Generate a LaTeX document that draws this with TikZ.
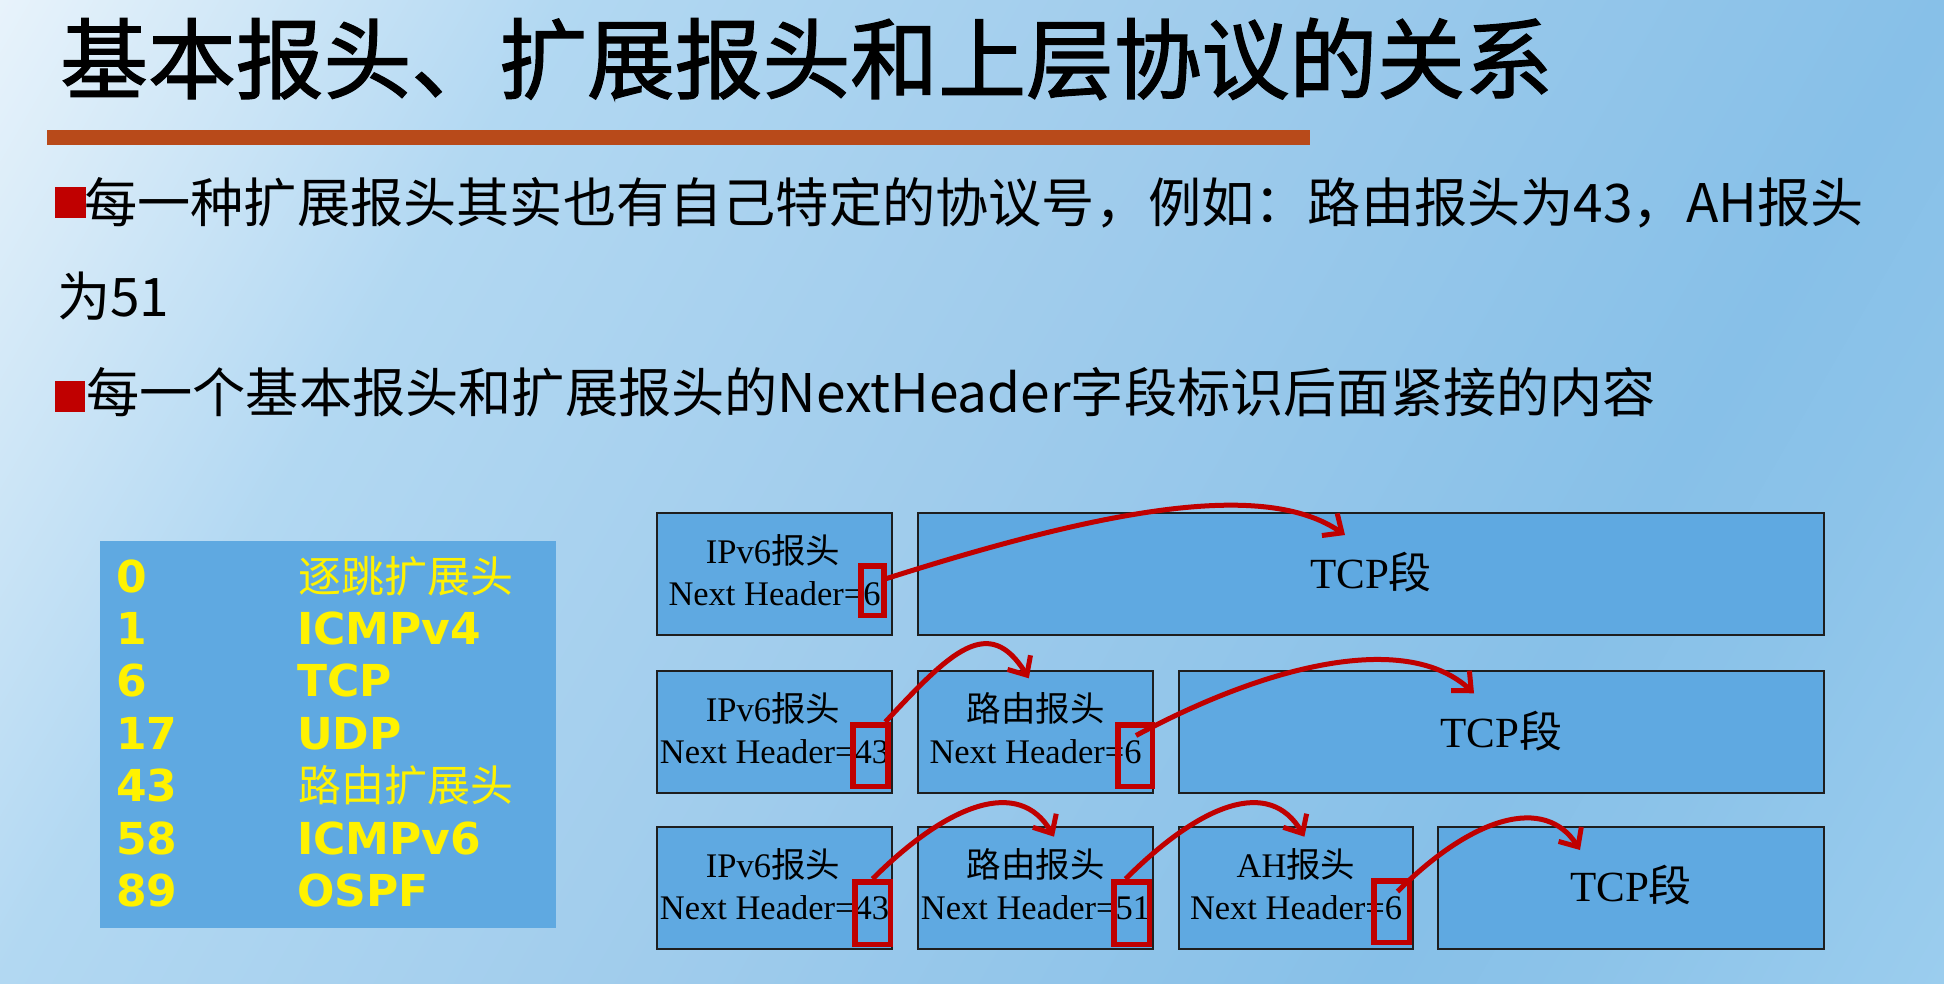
\documentclass[tikz,border=0pt]{standalone}
\usepackage{fontspec}
\usetikzlibrary{arrows.meta}

\newfontfamily\cjk{Noto Sans CJK SC}
\newfontfamily\cjkheavy{Noto Sans CJK SC}[FakeBold=1.5]
\newfontfamily\rmtimes{Liberation Serif}
\newfontfamily\verd{DejaVu Sans}

% slide background tones
\definecolor{bgA}{RGB}{232,243,251}
\definecolor{bgB}{RGB}{178,216,242}
\definecolor{bgC}{RGB}{160,204,236}
\definecolor{bgD}{RGB}{135,192,232}
\definecolor{bgE}{RGB}{140,195,233}
\definecolor{bgF}{RGB}{155,205,238}
\definecolor{boxblue}{RGB}{95,169,225}
\definecolor{rulebrown}{RGB}{184,74,26}
\definecolor{markred}{RGB}{192,0,0}
\definecolor{edgegray}{RGB}{30,30,30}

\pgfdeclarehorizontalshading{bgband}{100bp}{color(0bp)=(bgA); color(25.2bp)=(bgA);
  color(36.3bp)=(bgB); color(48.9bp)=(bgC); color(63.3bp)=(bgD); color(67.2bp)=(bgE);
  color(74.4bp)=(bgF); color(100bp)=(bgF)}

\tikzset{
  pkt/.style={draw=edgegray, line width=2bp, fill=boxblue, inner sep=0pt, rectangle},
  hdrtxt/.style={inner sep=0pt, anchor=base, font=\rmtimes\fontsize{34.5bp}{40bp}\selectfont},
  segtxt/.style={inner sep=0pt, anchor=base, font=\rmtimes\fontsize{43bp}{50bp}\selectfont},
  nhbox/.style={draw=markred, line width=5.5bp, inner sep=0pt, rectangle},
  nharrow/.style={draw=markred, line width=5bp, -{Straight Barb[length=15bp,width=27bp]}},
  tabnum/.style={inner sep=0pt, anchor=base west, text=yellow, font=\verd\bfseries\fontsize{44bp}{50bp}\selectfont},
  tabcjk/.style={inner sep=0pt, anchor=base west, text=yellow, font=\cjk\fontsize{43bp}{50bp}\selectfont},
  bodytxt/.style={inner sep=0pt, anchor=base west, font=\cjk\fontsize{53.2bp}{60bp}\selectfont},
  bulletsq/.style={fill=markred, inner sep=0pt, minimum width=30.5bp, minimum height=31bp},
}

\begin{document}
\begin{tikzpicture}[x=1bp, y=-1bp]
\useasboundingbox (0,0) rectangle (1944,983);

% background gradient
\begin{scope}
  \clip (0,0) rectangle (1944,983);
  \begin{scope}[transform canvas={rotate=-30}]
    \shade[shading=bgband] (-10,-1000) rectangle (2200,900);
  \end{scope}
\end{scope}

% title and rule
\node[inner sep=0pt, anchor=base west, font=\cjkheavy\fontsize{87.8bp}{90bp}\selectfont]
  (title) at (60,92) {基本报头、扩展报头和上层协议的关系};
\fill[rulebrown] (47,130) rectangle (1310,145);

% bullet lines
\node[bulletsq] (bl1) at (70.5,202) {};
\node[bodytxt] (l1) at (84,222) {每一种扩展报头其实也有自己特定的协议号，例如：路由报头为43，AH报头};
\node[bodytxt] (l2) at (57,316) {为51};
\node[bulletsq] (bl2) at (70,396) {};
\node[bodytxt] (l3) at (86,412) {每一个基本报头和扩展报头的NextHeader字段标识后面紧接的内容};

% protocol number table
\node[fill=boxblue, inner sep=0pt, minimum width=456bp, minimum height=387bp] (tbl) at (328,734.5) {};
\node[tabnum] (n0) at (116,592) {0};
\node[tabcjk] (p0) at (298,592) {逐跳扩展头};
\node[tabnum] (n1) at (116,644.4) {1};
\node[tabnum] (p1) at (297,644.4) {ICMPv4};
\node[tabnum] (n6) at (116,696.8) {6};
\node[tabnum] (p6) at (297,696.8) {TCP};
\node[tabnum] (n17) at (116,749.2) {17};
\node[tabnum] (p17) at (297,749.2) {UDP};
\node[tabnum] (n43) at (116,801.6) {43};
\node[tabcjk] (p43) at (298,801.6) {路由扩展头};
\node[tabnum] (n58) at (116,854) {58};
\node[tabnum] (p58) at (297,854) {ICMPv6};
\node[tabnum] (n89) at (116,906.4) {89};
\node[tabnum] (p89) at (297,906.4) {OSPF};

% row 1: IPv6 + TCP
\node[pkt, minimum width=235bp, minimum height=122bp] (a1) at (774.5,574) {};
\node[pkt, minimum width=906bp, minimum height=122bp] (t1) at (1371,574) {};
% row 2: IPv6 + routing + TCP
\node[pkt, minimum width=235bp, minimum height=122bp] (a2) at (774.5,732) {};
\node[pkt, minimum width=235bp, minimum height=122bp] (b2) at (1035.5,732) {};
\node[pkt, minimum width=645bp, minimum height=122bp] (t2) at (1501.5,732) {};
% row 3: IPv6 + routing + AH + TCP
\node[pkt, minimum width=235bp, minimum height=122bp] (a3) at (774.5,888) {};
\node[pkt, minimum width=235bp, minimum height=122bp] (b3) at (1035.5,888) {};
\node[pkt, minimum width=234bp, minimum height=122bp] (c3) at (1296,888) {};
\node[pkt, minimum width=386bp, minimum height=122bp] (t3) at (1631,888) {};

% header texts
\node[hdrtxt] (a1h) at (773,563) {IPv6{\cjk 报头}};
\node[hdrtxt] (a1n) at (774.5,605) {Next Header=6};
\node[segtxt] (t1s) at (1371,588) {TCP{\cjk 段}};

\node[hdrtxt] (a2h) at (773,721) {IPv6{\cjk 报头}};
\node[hdrtxt] (a2n) at (774.5,763) {Next Header=43};
\node[hdrtxt] (b2h) at (1035.5,721) {{\cjk 路由报头}};
\node[hdrtxt] (b2n) at (1035.5,763) {Next Header=6};
\node[segtxt] (t2s) at (1501.5,747) {TCP{\cjk 段}};

\node[hdrtxt] (a3h) at (773,877) {IPv6{\cjk 报头}};
\node[hdrtxt] (a3n) at (774.5,919) {Next Header=43};
\node[hdrtxt] (b3h) at (1035.5,877) {{\cjk 路由报头}};
\node[hdrtxt] (b3n) at (1035.5,919) {Next Header=51};
\node[hdrtxt] (c3h) at (1296,877) {AH{\cjk 报头}};
\node[hdrtxt] (c3n) at (1296,919) {Next Header=6};
\node[segtxt] (t3s) at (1631,901) {TCP{\cjk 段}};

% highlighted Next Header values
\node[nhbox, minimum width=23bp, minimum height=49.5bp] (r1) at (872.25,590.5) {};
\node[nhbox, minimum width=35.2bp, minimum height=61.5bp] (r2a) at (870.4,755.5) {};
\node[nhbox, minimum width=34.5bp, minimum height=61.5bp] (r2b) at (1135,755.5) {};
\node[nhbox, minimum width=35.5bp, minimum height=62.5bp] (r3a) at (872.5,913) {};
\node[nhbox, minimum width=35.5bp, minimum height=62.5bp] (r3b) at (1131.5,913) {};
\node[nhbox, minimum width=35.5bp, minimum height=61.5bp] (r3c) at (1391.5,911.5) {};

% arrow targets
\coordinate (e1) at (1345,535);
\coordinate (e2) at (1028.8,678.3);
\coordinate (e3) at (1474,693.3);
\coordinate (e4) at (1054,836.7);
\coordinate (e5) at (1304.4,836.7);
\coordinate (e6) at (1580,850);

% Next Header pointers
\draw[nharrow] (r1.40) .. controls +(220,-70) and +(-80,-55) .. (e1);
\draw[nharrow] (r2a.66) .. controls +(65,-70) and +(-40,-65) .. (e2);
\draw[nharrow] ([shift={(1,-20)}]r2b.center) .. controls +(140,-75) and +(-65,-60) .. (e3);
\draw[nharrow] (r3a.north) .. controls +(75,-75) and +(-35,-60) .. (e4);
\draw[nharrow] (r3b.100) .. controls +(75,-75) and +(-35,-60) .. (e5);
\draw[nharrow] ([shift={(6,-20)}]r3c.center) .. controls +(75,-75) and +(-35,-55) .. (e6);
\end{tikzpicture}
\end{document}
